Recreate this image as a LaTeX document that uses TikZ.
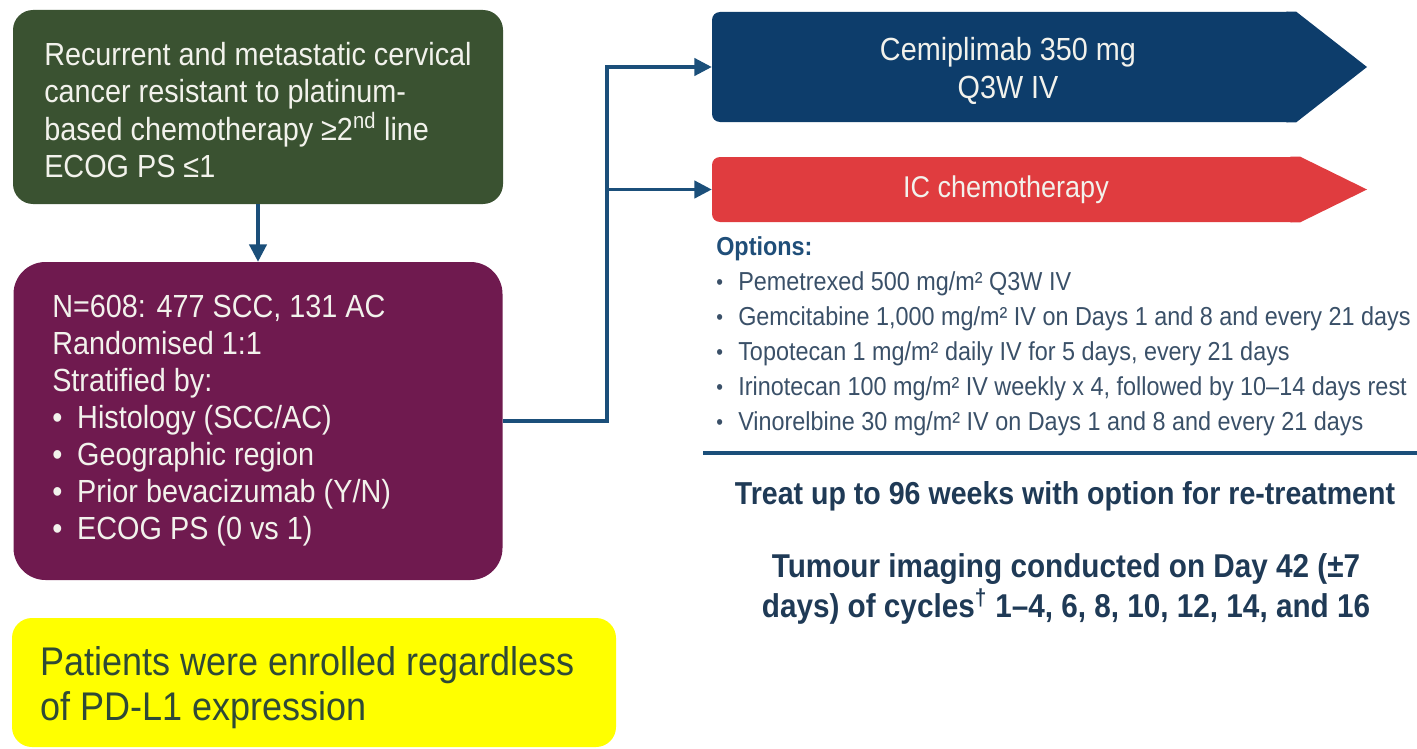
\documentclass[tikz,border=0pt]{standalone}
\usepackage{fontspec}
\setmainfont[FakeStretch=0.9]{Liberation Sans}
\usetikzlibrary{arrows.meta,calc}
\definecolor{eligGreen}{HTML}{3A5231}
\definecolor{popPurple}{HTML}{6F1A4F}
\definecolor{connNavy}{HTML}{1B4F7A}
\definecolor{armBlue}{HTML}{0D3D6B}
\definecolor{armRed}{HTML}{E03C3F}
\definecolor{noteYellow}{HTML}{FFFF00}
\definecolor{noteText}{HTML}{2F4A36}
\definecolor{optText}{HTML}{3A5068}
\definecolor{optHead}{HTML}{1F4E79}
\definecolor{infoText}{HTML}{1F3A56}
\definecolor{boxText}{HTML}{F2F2EC}
\tikzset{
  box/.style={draw=none, inner sep=0pt},
  conn/.style={draw=connNavy, line width=2.4pt, -{Triangle[length=13pt,width=13pt]}},
  txt/.style={inner sep=0pt, align=left, anchor=north west},
}
\newcommand{\bul}{\makebox[18.75pt][l]{•}}
\newcommand{\obul}{\makebox[16.5pt][l]{\raisebox{0.8pt}{\fontsize{16}{16}\selectfont•}}}
\begin{document}
\begin{tikzpicture}[x=0.75pt,y=-0.75pt]
\useasboundingbox (0,0) rectangle (1417,749);
% boxes
\node[box, fill=eligGreen, rounded corners=15pt, minimum width=367.5pt, minimum height=145.5pt] (elig) at (258,107) {};
\node[box, fill=popPurple, rounded corners=24pt, minimum width=366.75pt, minimum height=238.5pt] (pop) at (258,421) {};
\node[box, fill=noteYellow, rounded corners=15pt, minimum width=453pt, minimum height=96.75pt] (note) at (314,682.5) {};
% arms
\node[box, fill=armBlue, rounded corners=6pt, minimum width=438pt, minimum height=82.5pt] (cemi) at (1004,67) {};
\coordinate (cemitip) at (1367,67);
\fill[armBlue] ($(cemi.north east)+(-10,0)$) -- (cemi.north east) -- (cemitip) -- (cemi.south east) -- ($(cemi.south east)+(-10,0)$) -- cycle;
\node[box, fill=armRed, rounded corners=6pt, minimum width=441pt, minimum height=48.75pt] (chemo) at (1006,189.5) {};
\coordinate (chemotip) at (1367,189.5);
\fill[armRed] ($(chemo.north east)+(-10,0)$) -- (chemo.north east) -- (chemotip) -- (chemo.south east) -- ($(chemo.south east)+(-10,0)$) -- cycle;
% texts
\node[txt, text=boxText, font={\fontsize{24}{28}\selectfont}] (eligtxt) at (44,42)
 {Recurrent and metastatic cervical\\cancer resistant to platinum-\\based chemotherapy ≥2\textsuperscript{nd} line\\ECOG PS ≤1};
\node[txt, text=boxText, font={\fontsize{24}{27.75}\selectfont}] (poptxt) at (52,295)
 {N=608: 477 SCC, 131 AC\\Randomised 1:1\\Stratified by:\\\bul Histology (SCC/AC)\\\bul Geographic region\\\bul Prior bevacizumab (Y/N)\\\bul ECOG PS (0 vs 1)};
\node[txt, text=noteText, font={\fontsize{30}{34}\selectfont}] (notetxt) at (40,646)
 {Patients were enrolled regardless\\of PD-L1 expression};
\node[inner sep=0pt, align=center, text=boxText, font={\fontsize{24}{28.5}\selectfont}] (cemitxt) at (1008,71)
 {Cemiplimab 350 mg\\Q3W IV};
\node[inner sep=0pt, text=boxText, font={\fontsize{22.5}{28}\selectfont}] (chemotxt) at (1006,190) {IC chemotherapy};
\node[txt, text=optText, font={\fontsize{19.5}{26.25}\selectfont}] (opts) at (716,236)
 {\textcolor{optHead}{\bfseries Options:}\\
  \obul Pemetrexed 500 mg/m² Q3W IV\\
  \obul Gemcitabine 1,000 mg/m² IV on Days 1 and 8 and every 21 days\\
  \obul Topotecan 1 mg/m² daily IV for 5 days, every 21 days\\
  \obul Irinotecan 100 mg/m² IV weekly x 4, followed by 10–14 days rest\\
  \obul Vinorelbine 30 mg/m² IV on Days 1 and 8 and every 21 days};
\coordinate (ruleL) at (703,453);
\coordinate (ruleR) at (1417,453);
\draw[connNavy, line width=3pt] (ruleL) -- (ruleR);
\node[inner sep=0pt, text=infoText, font={\bfseries\fontsize{23.8}{28}\selectfont}] (treat) at (1065,496)
 {Treat up to 96 weeks with option for re-treatment};
\node[inner sep=0pt, align=center, text=infoText, font={\bfseries\fontsize{24.75}{30}\selectfont}] (imaging) at (1066,589)
 {Tumour imaging conducted on Day 42 (±7\\days) of cycles\textsuperscript{†} 1–4, 6, 8, 10, 12, 14, and 16};
% connectors
\coordinate (bus) at (607,0);
\draw[conn] (elig.south) -- (pop.north);
\draw[conn] (pop.east) -- (pop.east -| bus) |- (cemi.west);
\draw[conn] (chemo.west -| bus) -- (chemo.west);
\end{tikzpicture}
\end{document}
